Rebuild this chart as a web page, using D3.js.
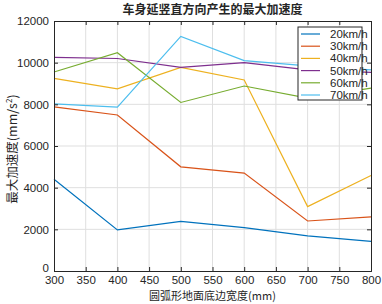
<!DOCTYPE html>
<html><head><meta charset="utf-8">
<script src="https://cdn.jsdelivr.net/npm/d3@7"></script>
<style>
body{margin:0;background:#fff;}
svg{display:block;}
text{font-family:"Liberation Sans",Arial,sans-serif;fill:#262626;}
.cjk{font-family:"Noto Sans CJK SC","Liberation Sans",sans-serif;}
</style></head>
<body><svg id="c" width="382" height="304"></svg>
<script>
const widths = [300, 400, 500, 600, 700, 800];
const seriesNames = ["20km/h", "30km/h", "40km/h", "50km/h", "60km/h", "70km/h"];
const v20 = [4400, 1970, 2380, 2080, 1690, 1420];
const v30 = [7880, 7490, 5000, 4700, 2400, 2600];
const v40 = [9250, 8740, 9775, 9170, 3090, 4580];
const v50 = [10250, 10200, 9775, 10000, 9650, 9530];
const v60 = [9550, 10480, 8090, 8880, 8300, 8780];
const v70 = [8020, 7870, 11260, 10100, 9850, 9650];
const colors = ["#0072BD", "#D95319", "#EDB120", "#7E2F8E", "#77AC30", "#4DBEEE"];
const xTicks = [300, 350, 400, 450, 500, 550, 600, 650, 700, 750, 800];
const yTicks = [0, 2000, 4000, 6000, 8000, 10000, 12000];
const titleText = "车身延竖直方向产生的最大加速度";
const xLabel = "圆弧形地面底边宽度(mm)";

const allSeries = [v20, v30, v40, v50, v60, v70];
const svg = d3.select("#c");
const L = 54, R = 371, T = 21, B = 271;
const x = d3.scaleLinear().domain([300, 800]).range([L, R]);
const y = d3.scaleLinear().domain([0, 12000]).range([B, T]);

// grid
const g = svg.append("g");
g.selectAll(".gx").data(xTicks.slice(1, -1)).enter().append("line")
  .attr("x1", d => x(d)).attr("x2", d => x(d)).attr("y1", T).attr("y2", B)
  .attr("stroke", "#dfdfdf").attr("stroke-width", 1);
g.selectAll(".gy").data(yTicks.slice(1, -1)).enter().append("line")
  .attr("y1", d => y(d)).attr("y2", d => y(d)).attr("x1", L).attr("x2", R)
  .attr("stroke", "#dfdfdf").attr("stroke-width", 1);

// lines
const line = d3.line().x((d, i) => x(widths[i])).y(d => y(d));
allSeries.forEach((s, k) => {
  svg.append("path").datum(s).attr("d", line).attr("fill", "none")
    .attr("stroke", colors[k]).attr("stroke-width", 1.2);
});

// axes
svg.append("g").attr("transform", `translate(0,${B})`)
  .call(d3.axisBottom(x).tickValues(xTicks).tickSize(-4).tickPadding(5));
const ay = svg.append("g").attr("transform", `translate(${L},0)`)
  .call(d3.axisLeft(y).tickValues(yTicks).tickSize(-4).tickPadding(5).tickFormat(d3.format("d")));
ay.selectAll(".tick text").filter(d => d === 0).attr("dy", "0.05em");
svg.append("g").attr("transform", `translate(0,${T})`)
  .call(d3.axisTop(x).tickValues(xTicks).tickSize(-4).tickFormat(""));
svg.append("g").attr("transform", `translate(${R},0)`)
  .call(d3.axisRight(y).tickValues(yTicks).tickSize(-4).tickFormat(""));
svg.selectAll(".domain").attr("stroke", "#262626");
svg.selectAll(".tick line").attr("stroke", "#262626");
svg.selectAll(".tick text").attr("font-size", "11.5px").attr("fill", "#262626")
  .attr("font-family", "Liberation Sans, Arial, sans-serif");

// titles
svg.append("text").attr("class", "cjk").attr("x", (L + R) / 2).attr("y", 14)
  .attr("text-anchor", "middle").attr("font-size", "12px").attr("font-weight", "bold")
  .text(titleText);
svg.append("text").attr("class", "cjk").attr("x", (L + R) / 2).attr("y", 300)
  .attr("text-anchor", "middle").attr("font-size", "11px").text(xLabel);
const yl = svg.append("text").attr("class", "cjk")
  .attr("transform", `translate(17,${149}) rotate(-90)`)
  .attr("text-anchor", "middle").attr("font-size", "12.5px");
yl.append("tspan").text("最大加速度(mm/s");
yl.append("tspan").attr("font-size", "8px").attr("dy", -5).text("2");
yl.append("tspan").attr("dy", 5).text(")");

// legend
const lg = svg.append("g").attr("transform", "translate(298,27)");
lg.append("rect").attr("width", 64).attr("height", 73).attr("fill", "#fff")
  .attr("stroke", "#262626").attr("stroke-width", 1);
seriesNames.forEach((n, i) => {
  const yy = 7 + i * 12.2;
  lg.append("line").attr("x1", 3).attr("x2", 22).attr("y1", yy).attr("y2", yy)
    .attr("stroke", colors[i]).attr("stroke-width", 1.2);
  lg.append("text").attr("x", 32).attr("y", yy + 4).attr("font-size", "11.5px").text(n);
});
</script></body></html>
